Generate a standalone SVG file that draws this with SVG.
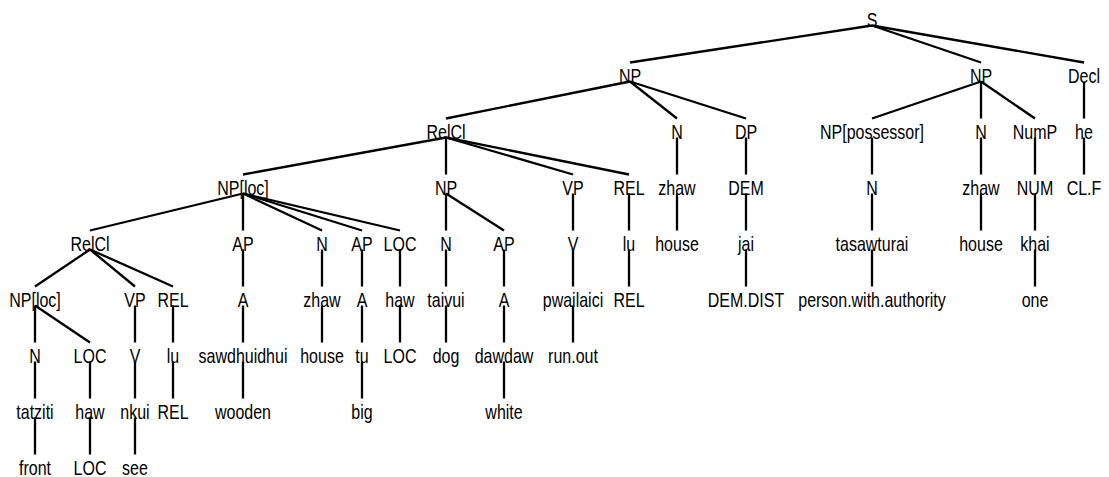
<svg xmlns="http://www.w3.org/2000/svg" width="1109" height="477" viewBox="0 0 1109 477">
<style>
text{font-family:"Liberation Sans",Arial,sans-serif;font-size:20.5px;fill:#000;text-anchor:middle}
#edges line{stroke:#000;stroke-width:2.3;stroke-linecap:butt}
</style>
<rect width="1109" height="477" fill="#fff"/>
<g id="nodes">
<g id="S" transform="translate(872 26.5) scale(.78 1)"><text>S</text></g>
<g id="NP1" transform="translate(630 82.5) scale(.78 1)"><text>NP</text></g>
<g id="NP2" transform="translate(981 82.5) scale(.78 1)"><text>NP</text></g>
<g id="Decl" transform="translate(1084 82.5) scale(.78 1)"><text>Decl</text></g>
<g id="RelCl1" transform="translate(446 138.5) scale(.78 1)"><text>RelCl</text></g>
<g id="Na" transform="translate(677 138.5) scale(.78 1)"><text>N</text></g>
<g id="DP" transform="translate(746 138.5) scale(.78 1)"><text>DP</text></g>
<g id="NPposs" transform="translate(872 138.5) scale(.78 1)"><text>NP[possessor]</text></g>
<g id="Nb" transform="translate(981 138.5) scale(.78 1)"><text>N</text></g>
<g id="NumP" transform="translate(1035 138.5) scale(.78 1)"><text>NumP</text></g>
<g id="he" transform="translate(1084 138.5) scale(.78 1)"><text>he</text></g>
<g id="NPloc1" transform="translate(243 194.5) scale(.78 1)"><text>NP[loc]</text></g>
<g id="NP3" transform="translate(446 194.5) scale(.78 1)"><text>NP</text></g>
<g id="VP1" transform="translate(573 194.5) scale(.78 1)"><text>VP</text></g>
<g id="REL1" transform="translate(629 194.5) scale(.78 1)"><text>REL</text></g>
<g id="zhaw1" transform="translate(677 194.5) scale(.78 1)"><text>zhaw</text></g>
<g id="DEM" transform="translate(746 194.5) scale(.78 1)"><text>DEM</text></g>
<g id="Nc" transform="translate(872 194.5) scale(.78 1)"><text>N</text></g>
<g id="zhaw2" transform="translate(981 194.5) scale(.78 1)"><text>zhaw</text></g>
<g id="NUM" transform="translate(1035 194.5) scale(.78 1)"><text>NUM</text></g>
<g id="CLF" transform="translate(1084 194.5) scale(.78 1)"><text>CL.F</text></g>
<g id="RelCl2" transform="translate(90 250.5) scale(.78 1)"><text>RelCl</text></g>
<g id="AP1" transform="translate(243 250.5) scale(.78 1)"><text>AP</text></g>
<g id="Nd" transform="translate(322 250.5) scale(.78 1)"><text>N</text></g>
<g id="AP2" transform="translate(362 250.5) scale(.78 1)"><text>AP</text></g>
<g id="LOC1" transform="translate(400 250.5) scale(.78 1)"><text>LOC</text></g>
<g id="Ne" transform="translate(446 250.5) scale(.78 1)"><text>N</text></g>
<g id="AP3" transform="translate(504 250.5) scale(.78 1)"><text>AP</text></g>
<g id="V1" transform="translate(573 250.5) scale(.78 1)"><text>V</text></g>
<g id="lu1" transform="translate(629 250.5) scale(.78 1)"><text>lu</text></g>
<g id="house1" transform="translate(677 250.5) scale(.78 1)"><text>house</text></g>
<g id="jai" transform="translate(746 250.5) scale(.78 1)"><text>jai</text></g>
<g id="tasawturai" transform="translate(872 250.5) scale(.78 1)"><text>tasawturai</text></g>
<g id="house2" transform="translate(981 250.5) scale(.78 1)"><text>house</text></g>
<g id="khai" transform="translate(1035 250.5) scale(.78 1)"><text>khai</text></g>
<g id="NPloc2" transform="translate(35 306.5) scale(.78 1)"><text>NP[loc]</text></g>
<g id="VP2" transform="translate(135 306.5) scale(.78 1)"><text>VP</text></g>
<g id="REL2" transform="translate(173 306.5) scale(.78 1)"><text>REL</text></g>
<g id="A1" transform="translate(243 306.5) scale(.78 1)"><text>A</text></g>
<g id="zhaw3" transform="translate(322 306.5) scale(.78 1)"><text>zhaw</text></g>
<g id="A2" transform="translate(362 306.5) scale(.78 1)"><text>A</text></g>
<g id="haw1" transform="translate(400 306.5) scale(.78 1)"><text>haw</text></g>
<g id="taivui" transform="translate(446 306.5) scale(.78 1)"><text>taivui</text></g>
<g id="A3" transform="translate(504 306.5) scale(.78 1)"><text>A</text></g>
<g id="pwailaici" transform="translate(573 306.5) scale(.78 1)"><text>pwailaici</text></g>
<g id="REL3" transform="translate(629 306.5) scale(.78 1)"><text>REL</text></g>
<g id="DEMDIST" transform="translate(746 306.5) scale(.78 1)"><text>DEM.DIST</text></g>
<g id="pwa" transform="translate(872 306.5) scale(.78 1)"><text>person.with.authority</text></g>
<g id="one" transform="translate(1035 306.5) scale(.78 1)"><text>one</text></g>
<g id="Nf" transform="translate(35 362.5) scale(.78 1)"><text>N</text></g>
<g id="LOC2" transform="translate(90 362.5) scale(.78 1)"><text>LOC</text></g>
<g id="V2" transform="translate(135 362.5) scale(.78 1)"><text>V</text></g>
<g id="lu2" transform="translate(173 362.5) scale(.78 1)"><text>lu</text></g>
<g id="sawdhuidhui" transform="translate(243 362.5) scale(.78 1)"><text>sawdhuidhui</text></g>
<g id="house3" transform="translate(322 362.5) scale(.78 1)"><text>house</text></g>
<g id="tu" transform="translate(362 362.5) scale(.78 1)"><text>tu</text></g>
<g id="LOC3" transform="translate(400 362.5) scale(.78 1)"><text>LOC</text></g>
<g id="dog" transform="translate(446 362.5) scale(.78 1)"><text>dog</text></g>
<g id="dawdaw" transform="translate(504 362.5) scale(.78 1)"><text>dawdaw</text></g>
<g id="runout" transform="translate(573 362.5) scale(.78 1)"><text>run.out</text></g>
<g id="tatziti" transform="translate(35 418.5) scale(.78 1)"><text>tatziti</text></g>
<g id="haw2" transform="translate(90 418.5) scale(.78 1)"><text>haw</text></g>
<g id="nkui" transform="translate(135 418.5) scale(.78 1)"><text>nkui</text></g>
<g id="REL4" transform="translate(173 418.5) scale(.78 1)"><text>REL</text></g>
<g id="wooden" transform="translate(243 418.5) scale(.78 1)"><text>wooden</text></g>
<g id="big" transform="translate(362 418.5) scale(.78 1)"><text>big</text></g>
<g id="white" transform="translate(504 418.5) scale(.78 1)"><text>white</text></g>
<g id="front" transform="translate(35 474.5) scale(.78 1)"><text>front</text></g>
<g id="LOC4" transform="translate(90 474.5) scale(.78 1)"><text>LOC</text></g>
<g id="see" transform="translate(135 474.5) scale(.78 1)"><text>see</text></g>
</g>
<g id="edges">
<line x1="872" y1="25.5" x2="630" y2="62.5"/>
<line x1="872" y1="25.5" x2="981" y2="62.5"/>
<line x1="872" y1="25.5" x2="1084" y2="62.5"/>
<line x1="630" y1="81.5" x2="446" y2="118.5"/>
<line x1="630" y1="81.5" x2="677" y2="118.5"/>
<line x1="630" y1="81.5" x2="746" y2="118.5"/>
<line x1="981" y1="81.5" x2="872" y2="118.5"/>
<line x1="981" y1="81.5" x2="981" y2="118.5"/>
<line x1="981" y1="81.5" x2="1035" y2="118.5"/>
<line x1="1084" y1="81.5" x2="1084" y2="118.5"/>
<line x1="446" y1="137.5" x2="243" y2="174.5"/>
<line x1="446" y1="137.5" x2="446" y2="174.5"/>
<line x1="446" y1="137.5" x2="573" y2="174.5"/>
<line x1="446" y1="137.5" x2="629" y2="174.5"/>
<line x1="677" y1="137.5" x2="677" y2="174.5"/>
<line x1="746" y1="137.5" x2="746" y2="174.5"/>
<line x1="872" y1="137.5" x2="872" y2="174.5"/>
<line x1="981" y1="137.5" x2="981" y2="174.5"/>
<line x1="1035" y1="137.5" x2="1035" y2="174.5"/>
<line x1="1084" y1="137.5" x2="1084" y2="174.5"/>
<line x1="243" y1="193.5" x2="90" y2="230.5"/>
<line x1="243" y1="193.5" x2="243" y2="230.5"/>
<line x1="243" y1="193.5" x2="322" y2="230.5"/>
<line x1="243" y1="193.5" x2="362" y2="230.5"/>
<line x1="243" y1="193.5" x2="400" y2="230.5"/>
<line x1="446" y1="193.5" x2="446" y2="230.5"/>
<line x1="446" y1="193.5" x2="504" y2="230.5"/>
<line x1="573" y1="193.5" x2="573" y2="230.5"/>
<line x1="629" y1="193.5" x2="629" y2="230.5"/>
<line x1="677" y1="193.5" x2="677" y2="230.5"/>
<line x1="746" y1="193.5" x2="746" y2="230.5"/>
<line x1="872" y1="193.5" x2="872" y2="230.5"/>
<line x1="981" y1="193.5" x2="981" y2="230.5"/>
<line x1="1035" y1="193.5" x2="1035" y2="230.5"/>
<line x1="90" y1="249.5" x2="35" y2="286.5"/>
<line x1="90" y1="249.5" x2="135" y2="286.5"/>
<line x1="90" y1="249.5" x2="173" y2="286.5"/>
<line x1="243" y1="249.5" x2="243" y2="286.5"/>
<line x1="322" y1="249.5" x2="322" y2="286.5"/>
<line x1="362" y1="249.5" x2="362" y2="286.5"/>
<line x1="400" y1="249.5" x2="400" y2="286.5"/>
<line x1="446" y1="249.5" x2="446" y2="286.5"/>
<line x1="504" y1="249.5" x2="504" y2="286.5"/>
<line x1="573" y1="249.5" x2="573" y2="286.5"/>
<line x1="629" y1="249.5" x2="629" y2="286.5"/>
<line x1="746" y1="249.5" x2="746" y2="286.5"/>
<line x1="872" y1="249.5" x2="872" y2="286.5"/>
<line x1="1035" y1="249.5" x2="1035" y2="286.5"/>
<line x1="35" y1="305.5" x2="35" y2="342.5"/>
<line x1="35" y1="305.5" x2="90" y2="342.5"/>
<line x1="135" y1="305.5" x2="135" y2="342.5"/>
<line x1="173" y1="305.5" x2="173" y2="342.5"/>
<line x1="243" y1="305.5" x2="243" y2="342.5"/>
<line x1="322" y1="305.5" x2="322" y2="342.5"/>
<line x1="362" y1="305.5" x2="362" y2="342.5"/>
<line x1="400" y1="305.5" x2="400" y2="342.5"/>
<line x1="446" y1="305.5" x2="446" y2="342.5"/>
<line x1="504" y1="305.5" x2="504" y2="342.5"/>
<line x1="573" y1="305.5" x2="573" y2="342.5"/>
<line x1="35" y1="361.5" x2="35" y2="398.5"/>
<line x1="90" y1="361.5" x2="90" y2="398.5"/>
<line x1="135" y1="361.5" x2="135" y2="398.5"/>
<line x1="173" y1="361.5" x2="173" y2="398.5"/>
<line x1="243" y1="361.5" x2="243" y2="398.5"/>
<line x1="362" y1="361.5" x2="362" y2="398.5"/>
<line x1="504" y1="361.5" x2="504" y2="398.5"/>
<line x1="35" y1="417.5" x2="35" y2="454.5"/>
<line x1="90" y1="417.5" x2="90" y2="454.5"/>
<line x1="135" y1="417.5" x2="135" y2="454.5"/>
</g>
</svg>
